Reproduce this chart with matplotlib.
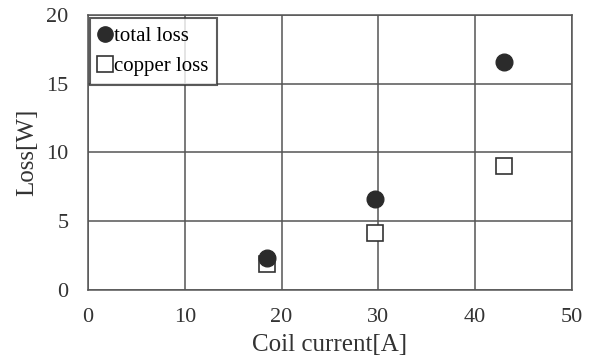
import matplotlib
matplotlib.use("Agg")
import matplotlib.pyplot as plt

# coil current [A] and measured losses [W]
current = [18.5, 29.7, 43.0]
total_loss = [2.3, 6.6, 16.6]
copper_loss = [1.85, 4.1, 9.0]

plt.rcParams['font.family'] = ['Liberation Serif', 'DejaVu Serif']

fig = plt.figure(figsize=(5.92, 3.58), dpi=100)
ax = fig.add_axes([0.1486, 0.191, 0.8174, 0.767])

ax.plot(current, total_loss, 'o', color='#2b2b2b', markersize=12, label='total loss', zorder=5)
ax.plot(current, copper_loss, 's', markerfacecolor='white', markeredgecolor='#333333',
        markeredgewidth=1.2, markersize=11, label='copper loss', zorder=4)

ax.set_xlim(0, 50)
ax.set_ylim(0, 20)
ax.set_xticks(range(0, 51, 10))
ax.set_yticks(range(0, 21, 5))
ax.grid(True, color='#555555', linewidth=1.1)
ax.set_axisbelow(True)
for s in ax.spines.values():
    s.set_color('#555555')
    s.set_linewidth(1.1)
ax.tick_params(length=0, labelsize=16, colors='#333333')
ax.tick_params(axis='x', pad=13)
ax.tick_params(axis='y', pad=14)

ax.set_xlabel('Coil current[A]', fontsize=18, color='#333333', labelpad=5)
ax.set_ylabel('Loss[W]', fontsize=18, color='#333333', labelpad=6)

leg = ax.legend(loc='upper left', bbox_to_anchor=(0.0, 0.995), fontsize=15,
                handlelength=0.6, handletextpad=0.15, borderaxespad=0.1,
                labelspacing=0.5, frameon=True, fancybox=False, borderpad=0.4)
leg.get_frame().set_edgecolor('#333333')
leg.get_frame().set_linewidth(1.5)
for h in leg.legend_handles:
    h.set_markersize(11)

fig.savefig('out.png', dpi=100)
